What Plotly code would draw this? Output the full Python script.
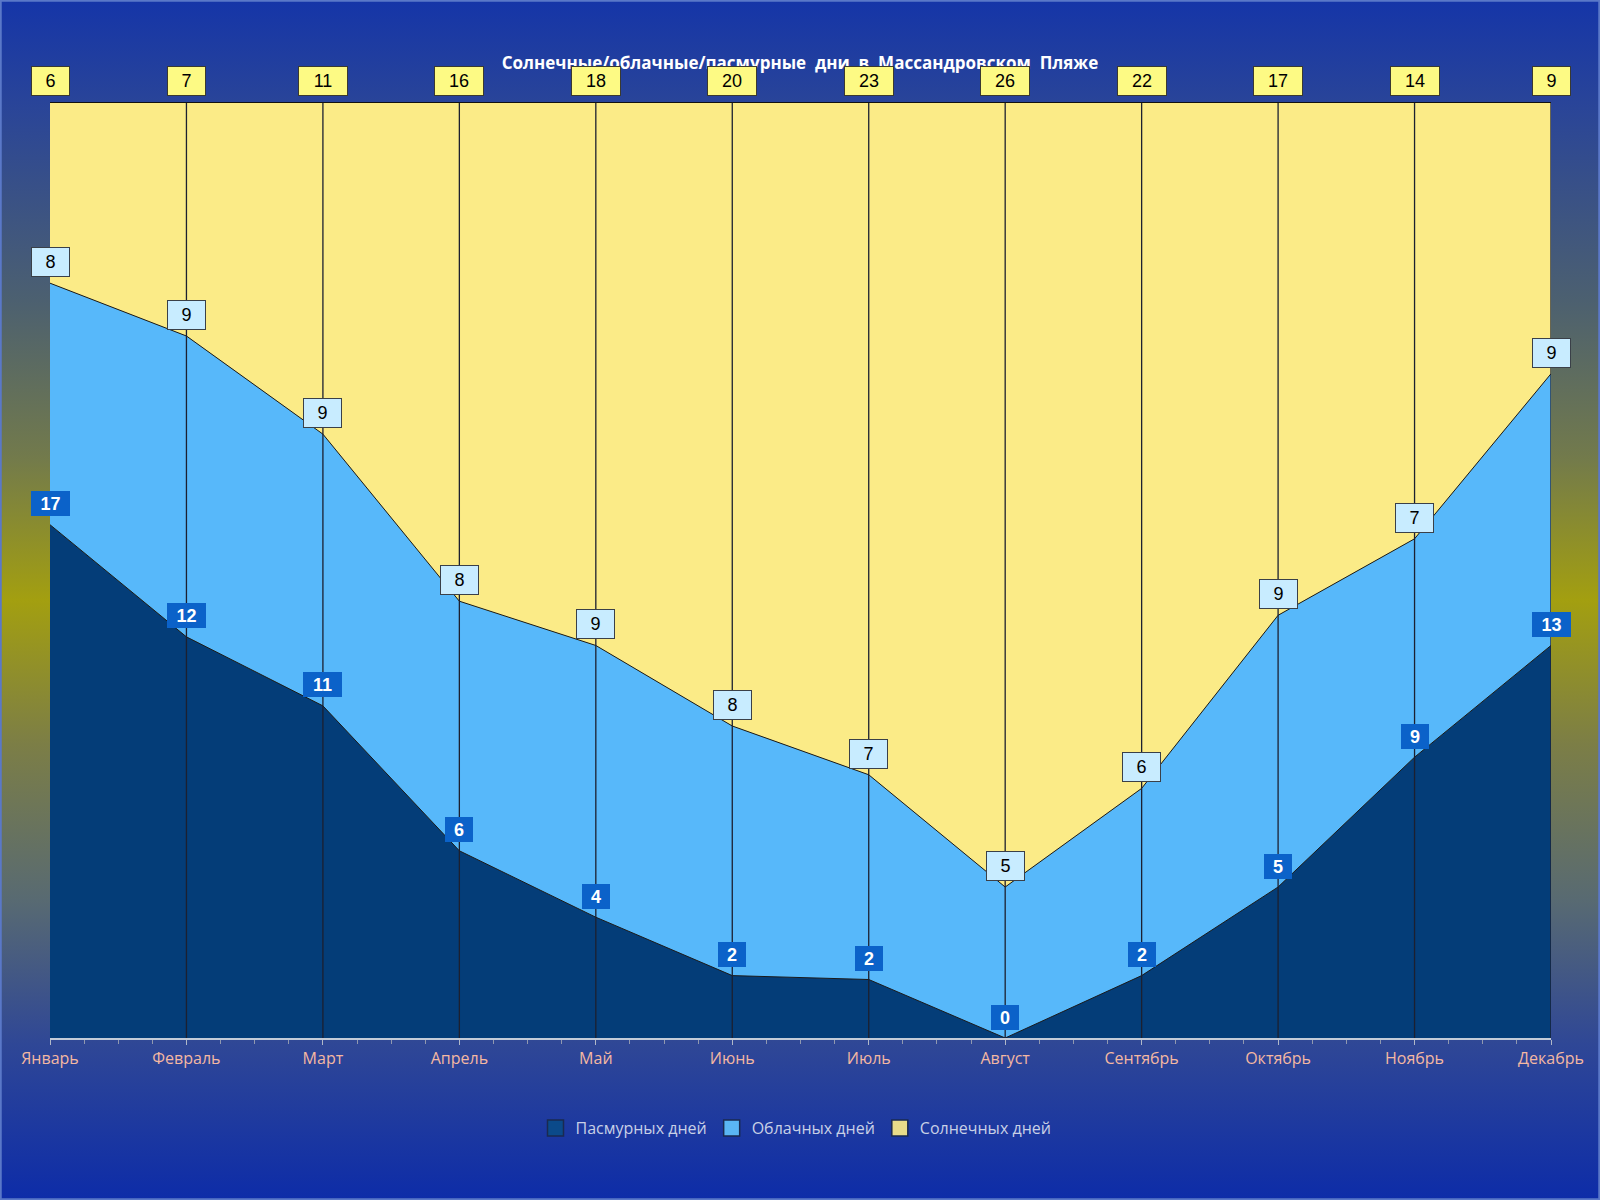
import base64
import plotly.graph_objects as go

months = ['Январь', 'Февраль', 'Март', 'Апрель', 'Май', 'Июнь',
          'Июль', 'Август', 'Сентябрь', 'Октябрь', 'Ноябрь', 'Декабрь']
overcast = [17, 12, 11, 6, 4, 2, 2, 0, 2, 5, 9, 13]
cloudy = [8, 9, 9, 8, 9, 8, 7, 5, 6, 9, 7, 9]
sunny = [6, 7, 11, 16, 18, 20, 23, 26, 22, 17, 14, 9]

W, H = 1600, 1200
L, R, T, B = 50, 49, 102, 162
pw, ph = W - L - R, H - T - B

xs = list(range(len(months)))
totals = [a + b + c for a, b, c in zip(overcast, cloudy, sunny)]

fig = go.Figure()

# 100% stacked areas
series = [
    ('Пасмурных дней', overcast, '#043d78', '#0b4a8a'),
    ('Облачных дней', cloudy, '#57b8fa', '#5ab6f4'),
    ('Солнечных дней', sunny, '#fbeb87', '#e8dc8a'),
]
for name, vals, col, _ in series:
    fig.add_trace(go.Scatter(
        x=xs, y=vals, name=name, mode='lines', stackgroup='one', groupnorm='percent',
        fillcolor=col, line=dict(color='#1a1a1a', width=1),
        showlegend=False, hoverinfo='skip'))

# legend entries as squares
for name, _, _, lcol in series:
    fig.add_trace(go.Scatter(
        x=[None], y=[None], name=name, mode='markers',
        marker=dict(symbol='square', size=19, color=lcol, line=dict(color='#1a2a50', width=1.5))))

# background gradient (vertical, blue - olive - blue)
stops = [(0, '#1535a8'), (0.09, '#2a4598'), (0.25, '#4c6070'), (0.38, '#727a4c'),
         (0.5, '#a39f10'), (0.62, '#7c7e46'), (0.75, '#586a72'), (0.87, '#2f4796'),
         (1, '#0d2ca8')]
stop_xml = ''.join(f'<stop offset="{o}" stop-color="{c}"/>' for o, c in stops)
svg = (f'<svg xmlns="http://www.w3.org/2000/svg" width="{W}" height="{H}" preserveAspectRatio="none">'
       f'<defs><linearGradient id="g" x1="0" y1="0" x2="0" y2="1">{stop_xml}</linearGradient></defs>'
       f'<rect width="{W}" height="{H}" fill="url(#g)"/></svg>')
src = 'data:image/svg+xml;base64,' + base64.b64encode(svg.encode()).decode()
fig.add_layout_image(dict(source=src, xref='paper', yref='paper',
                          x=-L / pw, y=1 + T / ph, sizex=W / pw, sizey=H / ph,
                          xanchor='left', yanchor='top', sizing='stretch', layer='below'))

# vertical month lines, small grey ticks above the top, top border
for j in xs:
    if j > 0:
        fig.add_shape(type='line', x0=j, x1=j, y0=0, y1=100, xref='x', yref='y',
                      line=dict(color='#1c2030', width=1.3), layer='above')
    fig.add_shape(type='line', x0=j, x1=j, xref='x', yref='y', ysizemode='pixel', yanchor=100,
                  y0=0, y1=7, line=dict(color='#a8b0c8', width=1.5), layer='above')
fig.add_shape(type='line', x0=0, x1=xs[-1], y0=100, y1=100, xref='x', yref='y',
              line=dict(color='#111111', width=2), layer='above')
# outer frame
fig.add_shape(type='rect', xref='paper', yref='paper',
              x0=-L / pw + 0.0005, x1=1 + R / pw - 0.0005, y0=-B / ph + 0.0007, y1=1 + T / ph - 0.0007,
              line=dict(color='#5a78c8', width=2), layer='above')

# data labels
for j in xs:
    tot = totals[j]
    levels = [overcast[j] / tot * 100, (overcast[j] + cloudy[j]) / tot * 100, 100]
    vals = [overcast[j], cloudy[j], sunny[j]]
    for k, (lvl, v) in enumerate(zip(levels, vals)):
        txt = str(v)
        if k == 0:
            style = dict(bgcolor='#0b62c9', bordercolor='#0b62c9',
                         font=dict(family='Liberation Sans', size=18, color='white', weight='bold'),
                         width=9 + 11 * len(txt), height=17)
        elif k == 1:
            style = dict(bgcolor='#c8ecff', bordercolor='#3a4048',
                         font=dict(family='Liberation Sans', size=18, color='black'),
                         width=20 + 11 * len(txt), height=22)
        else:
            style = dict(bgcolor='#fdfa84', bordercolor='#3a3a30',
                         font=dict(family='Liberation Sans', size=18, color='black'),
                         width=20 + 11 * len(txt), height=22)
        fig.add_annotation(x=j, y=lvl, xref='x', yref='y', text=txt, showarrow=False,
                           yshift=21, yanchor='middle', borderwidth=1, borderpad=3, **style)

fig.update_layout(
    width=W, height=H,
    margin=dict(l=L, r=R, t=T, b=B),
    paper_bgcolor='#1a38a8',
    plot_bgcolor='rgba(0,0,0,0)',
    title=dict(text='Солнечные/облачные/пасмурные  дни  в  Массандровском  Пляже',
               x=0.5, xanchor='center', y=1 - 63 / H, yanchor='middle',
               font=dict(family='Open Sans', size=17, color='white', weight='bold')),
    xaxis=dict(range=[0, xs[-1]], tickvals=xs, ticktext=months, showgrid=False,
               zeroline=False, showline=True, linecolor='#c4ccd8', linewidth=2,
               ticks='outside', ticklen=5, tickcolor='#b0b8c8',
               minor=dict(dtick=0.25, ticks='outside', ticklen=4, tickcolor='#9098b0'),
               tickfont=dict(family='Open Sans', size=16, color='#f4b8a2')),
    yaxis=dict(range=[0, 100], visible=False, showgrid=False),
    showlegend=True,
    legend=dict(orientation='h', x=0.497, xanchor='center', y=-(1128 - 1038) / ph, yanchor='middle',
                font=dict(family='Open Sans', size=16, color='#c8d0e6'),
                bgcolor='rgba(0,0,0,0)', traceorder='normal', itemwidth=30),
)

fig.write_html('out.html', config={'displayModeBar': False},
               post_script="document.body.style.margin='0';")
